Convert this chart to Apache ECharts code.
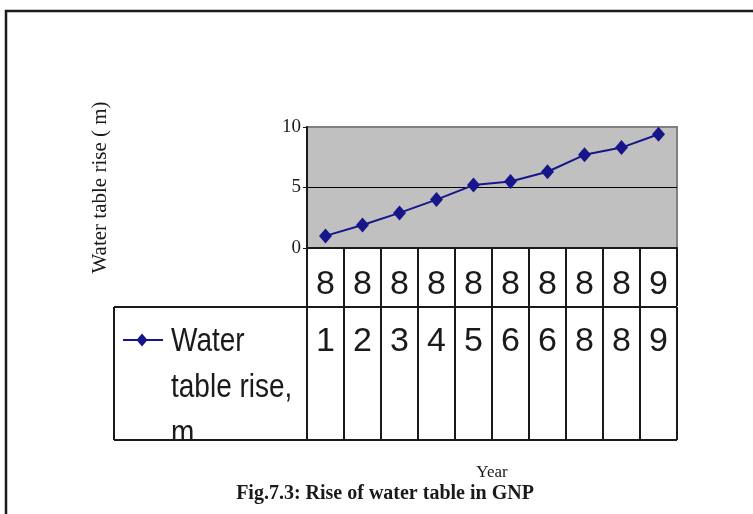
<!DOCTYPE html>
<html>
<head>
<meta charset="utf-8">
<script src="https://cdn.jsdelivr.net/npm/echarts@6/dist/echarts.min.js"></script>
<style>
  html, body { margin: 0; padding: 0; background: #fff; }
  #chart { width: 753px; height: 514px; }
</style>
</head>
<body>
<div id="chart"></div>
<script>
// Water table rise per year (m)
const categories = ['8', '8', '8', '8', '8', '8', '8', '8', '8', '9'];
const waterRise = [1.0, 1.9, 2.9, 4.0, 5.2, 5.5, 6.3, 7.7, 8.3, 9.4];
const seriesName = ['Water', 'table rise,', 'm'];
const yMin = 0, yMax = 10, yStep = 5;

const navy = '#16168a';
const ink = '#1a1a1a';
const serif = '"Liberation Serif", "Times New Roman", serif';
const sans = '"Liberation Sans", Arial, sans-serif';

const chart = echarts.init(document.getElementById('chart'));

chart.setOption({
  animation: false,
  backgroundColor: '#ffffff',
  grid: {
    left: 307, top: 127, right: 76, bottom: 266,
    show: true,
    backgroundColor: '#c0c0c0',
    borderColor: '#808080',
    borderWidth: 2
  },
  xAxis: {
    type: 'category',
    data: categories,
    boundaryGap: true,
    name: 'Year',
    nameLocation: 'middle',
    nameGap: 216,
    nameTextStyle: { fontFamily: serif, fontSize: 17, color: ink },
    axisLine: { show: true, lineStyle: { color: ink, width: 2 } },
    axisTick: { show: true, length: 58, lineStyle: { color: ink, width: 2 } },
    axisLabel: { fontFamily: sans, fontSize: 34, color: ink, margin: 20 },
    splitLine: { show: false }
  },
  yAxis: {
    type: 'value',
    min: yMin, max: yMax, interval: yStep,
    name: 'Water table rise ( m)',
    nameLocation: 'middle',
    nameRotate: 90,
    nameGap: 196,
    nameTextStyle: { fontFamily: serif, fontSize: 21, color: ink },
    axisLine: { show: true, lineStyle: { color: ink, width: 2 } },
    axisTick: { show: true, length: 4, lineStyle: { color: ink, width: 1 } },
    axisLabel: { fontFamily: serif, fontSize: 19, color: ink, margin: 6 },
    splitLine: { show: true, lineStyle: { color: ['#000000', '#000000', '#808080'], width: 1 } }
  },
  series: [{
    name: seriesName.join(' '),
    type: 'line',
    data: waterRise,
    symbol: 'diamond',
    symbolSize: [13, 15],
    lineStyle: { color: navy, width: 2 },
    itemStyle: { color: navy }
  }]
});

// Data table below the plot: value row, legend cell, frame and caption
function buildTable() {
  const y0 = chart.convertToPixel({ yAxisIndex: 0 }, yMin);
  const c0 = chart.convertToPixel({ xAxisIndex: 0 }, 0);
  const c1 = chart.convertToPixel({ xAxisIndex: 0 }, 1);
  const band = c1 - c0;
  const catRowH = 59;
  const valRowH = 133;
  const rowTop = y0 + catRowH;
  const rowBottom = rowTop + valRowH;
  const cellLeft = 114;
  const plotRight = chart.convertToPixel({ xAxisIndex: 0 }, categories.length - 1) + band / 2;
  const plotLeft = c0 - band / 2;

  const els = [];
  const lineStyle = { stroke: ink, lineWidth: 2 };

  // outer frame
  els.push({ type: 'rect', shape: { x: 6, y: 11, width: 800, height: 600 },
    style: { fill: null, stroke: ink, lineWidth: 2.5 }, z: 1 });

  // value row text (rounded values)
  waterRise.forEach((v, i) => {
    const cx = chart.convertToPixel({ xAxisIndex: 0 }, i);
    els.push({ type: 'text', x: cx, y: rowTop + 35, z: 5,
      style: { text: String(Math.round(v)), font: '34px ' + sans, fill: ink,
        align: 'center', verticalAlign: 'middle' } });
  });

  // legend cell: marker line, diamond and wrapped name
  const my = rowTop + 33;
  els.push({ type: 'line', shape: { x1: 123, y1: my, x2: 163, y2: my },
    style: { stroke: navy, lineWidth: 2 }, z: 5 });
  els.push({ type: 'polygon', shape: { points: [[142, my - 6.5], [147.5, my], [142, my + 6.5], [136.5, my]] },
    style: { fill: navy }, z: 6 });
  const baselines = [my + 2, my + 48, my + 94];
  seriesName.forEach((t, k) => {
    els.push({ type: 'text', x: 171, y: baselines[k], scaleY: 1.18, z: 5,
      style: { text: t, font: '28px ' + sans, fill: ink, align: 'left', verticalAlign: 'middle' } });
  });
  // hide overflow below the table
  els.push({ type: 'rect', shape: { x: cellLeft + 1, y: rowBottom + 1, width: plotLeft - cellLeft - 2, height: 16 },
    style: { fill: '#ffffff' }, z: 7 });

  // table grid lines
  els.push({ type: 'line', shape: { x1: cellLeft, y1: rowTop, x2: plotRight, y2: rowTop }, style: lineStyle, z: 8 });
  els.push({ type: 'line', shape: { x1: cellLeft, y1: rowBottom, x2: plotRight, y2: rowBottom }, style: lineStyle, z: 8 });
  els.push({ type: 'line', shape: { x1: cellLeft, y1: rowTop, x2: cellLeft, y2: rowBottom }, style: lineStyle, z: 8 });
  for (let i = 0; i <= categories.length; i++) {
    const bx = c0 - band / 2 + i * band;
    els.push({ type: 'line', shape: { x1: bx, y1: rowTop, x2: bx, y2: rowBottom }, style: lineStyle, z: 8 });
  }

  // caption
  els.push({ type: 'text', x: 385, y: 494, z: 5,
    style: { text: 'Fig.7.3: Rise of water table in GNP', font: 'bold 20px ' + serif,
      fill: ink, align: 'center', verticalAlign: 'middle' } });

  chart.setOption({ graphic: { elements: els } });
}
buildTable();
</script>
</body>
</html>
